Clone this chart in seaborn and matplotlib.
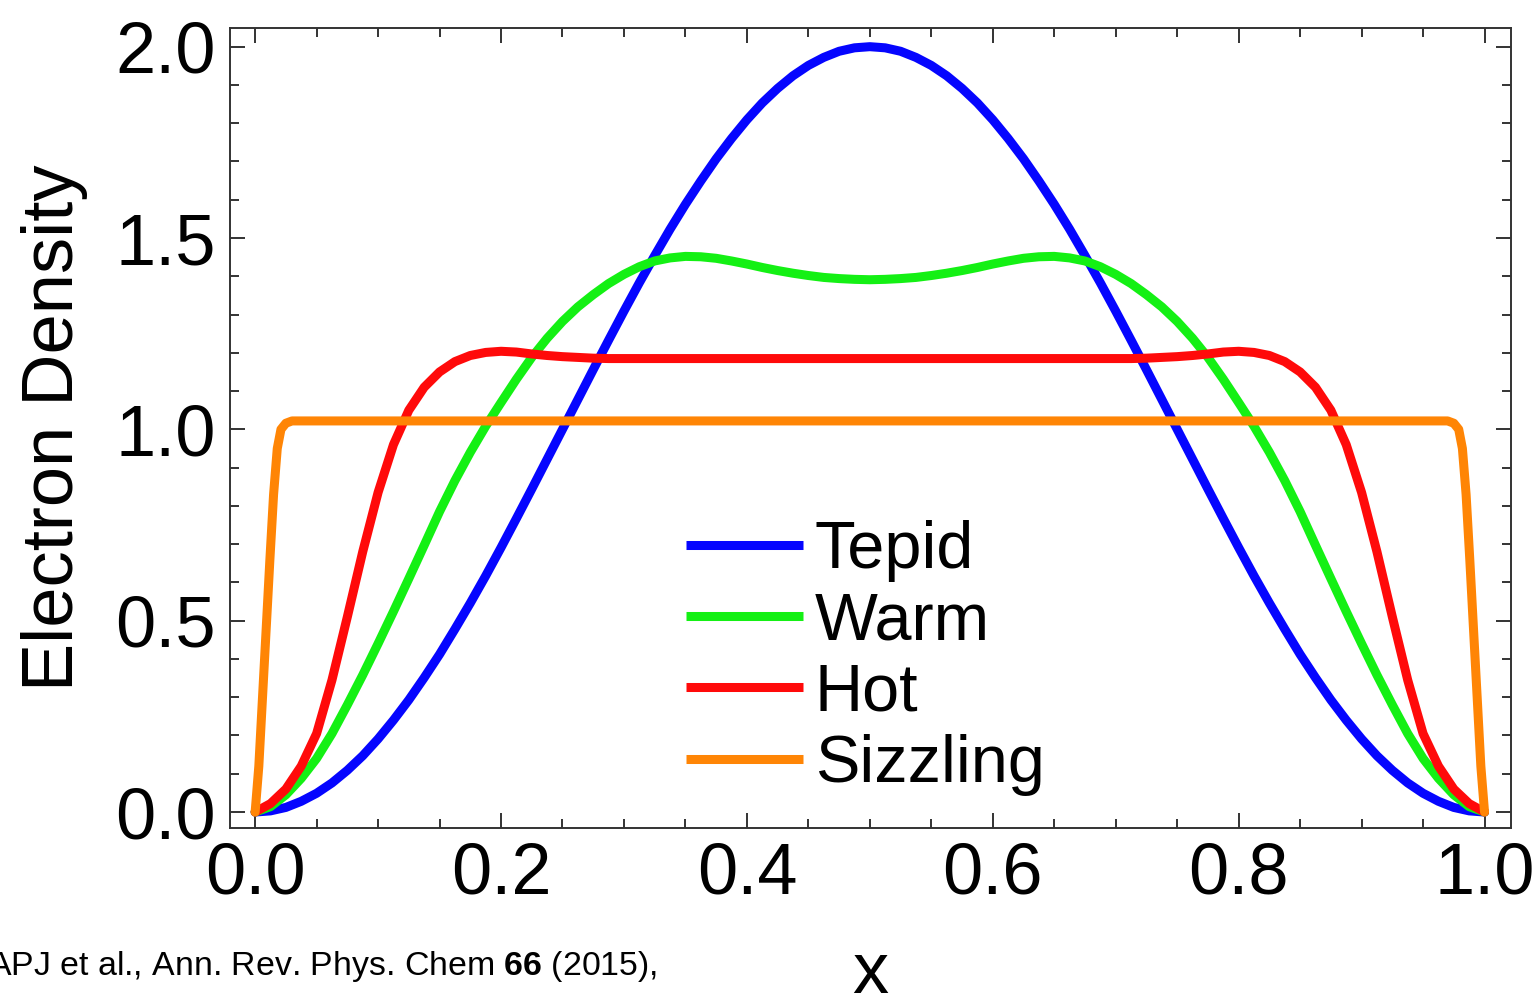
import matplotlib
matplotlib.use("Agg")
import matplotlib.pyplot as plt
import pandas as pd
import seaborn as sns
from matplotlib.ticker import MultipleLocator, FormatStrFormatter

# Sample positions along the box (shared by the three smooth profiles)
x_grid = [0.0000, 0.0125, 0.0250, 0.0375, 0.0500, 0.0625, 0.0750, 0.0875,
          0.1000, 0.1125, 0.1250, 0.1375, 0.1500, 0.1625, 0.1750, 0.1875,
          0.2000, 0.2125, 0.2250, 0.2375, 0.2500, 0.2625, 0.2750, 0.2875,
          0.3000, 0.3125, 0.3250, 0.3375, 0.3500, 0.3625, 0.3750, 0.3875,
          0.4000, 0.4125, 0.4250, 0.4375, 0.4500, 0.4625, 0.4750, 0.4875,
          0.5000, 0.5125, 0.5250, 0.5375, 0.5500, 0.5625, 0.5750, 0.5875,
          0.6000, 0.6125, 0.6250, 0.6375, 0.6500, 0.6625, 0.6750, 0.6875,
          0.7000, 0.7125, 0.7250, 0.7375, 0.7500, 0.7625, 0.7750, 0.7875,
          0.8000, 0.8125, 0.8250, 0.8375, 0.8500, 0.8625, 0.8750, 0.8875,
          0.9000, 0.9125, 0.9250, 0.9375, 0.9500, 0.9625, 0.9750, 0.9875,
          1.0000]

tepid = [0.000, 0.003, 0.012, 0.028, 0.049, 0.076, 0.109, 0.147, 0.191, 0.240,
         0.293, 0.351, 0.412, 0.478, 0.546, 0.617, 0.691, 0.767, 0.844, 0.922,
         1.000, 1.078, 1.156, 1.233, 1.309, 1.383, 1.454, 1.523, 1.588, 1.649,
         1.707, 1.760, 1.809, 1.853, 1.891, 1.924, 1.951, 1.972, 1.988, 1.997,
         2.000,
         1.997, 1.988, 1.972, 1.951, 1.924, 1.891, 1.853, 1.809, 1.760, 1.707,
         1.649, 1.588, 1.523, 1.454, 1.383, 1.309, 1.233, 1.156, 1.078, 1.000,
         0.922, 0.844, 0.767, 0.691, 0.617, 0.546, 0.478, 0.412, 0.351, 0.293,
         0.240, 0.191, 0.147, 0.109, 0.076, 0.049, 0.028, 0.012, 0.003, 0.000]

warm = [0.000, 0.014, 0.045, 0.088, 0.140, 0.205, 0.280, 0.358, 0.440, 0.524,
        0.610, 0.697, 0.785, 0.866, 0.940, 1.008, 1.070, 1.131, 1.188, 1.238,
        1.282, 1.320, 1.352, 1.381, 1.405, 1.425, 1.440, 1.448, 1.452, 1.451,
        1.447, 1.440, 1.432, 1.423, 1.415, 1.408, 1.402, 1.397, 1.394, 1.392,
        1.391,
        1.392, 1.394, 1.397, 1.402, 1.408, 1.415, 1.423, 1.432, 1.440, 1.447,
        1.451, 1.452, 1.448, 1.440, 1.425, 1.405, 1.381, 1.352, 1.320, 1.282,
        1.238, 1.188, 1.131, 1.070, 1.008, 0.940, 0.866, 0.785, 0.697, 0.610,
        0.524, 0.440, 0.358, 0.280, 0.205, 0.140, 0.088, 0.045, 0.014, 0.000]

hot = [0.000, 0.022, 0.060, 0.120, 0.205, 0.345, 0.510, 0.680, 0.835, 0.960,
       1.050, 1.110, 1.150, 1.177, 1.193, 1.201, 1.204, 1.202, 1.197, 1.193,
       1.190, 1.188, 1.186, 1.185, 1.185, 1.185, 1.185, 1.185, 1.185, 1.185,
       1.185, 1.185, 1.185, 1.185, 1.185, 1.185, 1.185, 1.185, 1.185, 1.185,
       1.185,
       1.185, 1.185, 1.185, 1.185, 1.185, 1.185, 1.185, 1.185, 1.185, 1.185,
       1.185, 1.185, 1.185, 1.185, 1.185, 1.185, 1.185, 1.186, 1.188, 1.190,
       1.193, 1.197, 1.202, 1.204, 1.201, 1.193, 1.177, 1.150, 1.110, 1.050,
       0.960, 0.835, 0.680, 0.510, 0.345, 0.205, 0.120, 0.060, 0.022, 0.000]

# The sizzling profile has sharp walls, so it is sampled more finely there
x_sizzling = [0.000, 0.003, 0.006, 0.009, 0.012, 0.015, 0.018, 0.021, 0.025,
              0.030, 0.035, 0.500, 0.965, 0.970, 0.975, 0.979, 0.982, 0.985,
              0.988, 0.991, 0.994, 0.997, 1.000]
sizzling = [0.000, 0.120, 0.300, 0.480, 0.660, 0.830, 0.950, 1.000, 1.016,
            1.022, 1.022, 1.022, 1.022, 1.022, 1.016, 1.000, 0.950, 0.830,
            0.660, 0.480, 0.300, 0.120, 0.000]

series_names = ["Tepid", "Warm", "Hot", "Sizzling"]
series_colors = ["#0505ff", "#14f014", "#ff0a0a", "#ff8505"]

frames = [
    pd.DataFrame({"x": x_grid, "density": tepid, "case": "Tepid"}),
    pd.DataFrame({"x": x_grid, "density": warm, "case": "Warm"}),
    pd.DataFrame({"x": x_grid, "density": hot, "case": "Hot"}),
    pd.DataFrame({"x": x_sizzling, "density": sizzling, "case": "Sizzling"}),
]

sns.set_theme(style="ticks")
plt.rcParams["font.family"] = ["Liberation Sans", "DejaVu Sans"]
plt.rcParams["text.color"] = "black"
plt.rcParams["mathtext.fontset"] = "custom"
plt.rcParams["mathtext.rm"] = "Liberation Sans"
plt.rcParams["mathtext.bf"] = "Liberation Sans:bold"

fig = plt.figure(figsize=(15.36, 9.97), dpi=100)
ax = fig.add_axes([0.1497, 0.1698, 0.8340, 0.8018])

for df, name, color in zip(frames, series_names, series_colors):
    sns.lineplot(data=df, x="x", y="density", ax=ax, color=color, label=name,
                 linewidth=6.5, errorbar=None, solid_capstyle="round",
                 solid_joinstyle="round")

ax.set_xlim(-0.0205, 1.0215)
ax.set_ylim(-0.041, 2.048)

ax.xaxis.set_major_locator(MultipleLocator(0.2))
ax.xaxis.set_minor_locator(MultipleLocator(0.05))
ax.yaxis.set_major_locator(MultipleLocator(0.5))
ax.yaxis.set_minor_locator(MultipleLocator(0.1))
ax.xaxis.set_major_formatter(FormatStrFormatter("%.1f"))
ax.yaxis.set_major_formatter(FormatStrFormatter("%.1f"))

ax.tick_params(which="both", direction="in", top=True, right=True,
               width=1.4, color="#333333")
ax.tick_params(which="major", length=11, labelsize=52, pad=10,
               labelcolor="black")
ax.tick_params(which="minor", length=6.5)
for spine in ax.spines.values():
    spine.set_linewidth(1.4)
    spine.set_color("#333333")

ax.set_xlabel("x", fontsize=52, color="black")
ax.set_ylabel("Electron Density", fontsize=52, color="black")
ax.xaxis.set_label_coords(0.5, -0.142)
ax.yaxis.set_label_coords(-0.111, 0.5)

leg = ax.legend(loc="upper left", bbox_to_anchor=(0.356, 0.385), frameon=False,
                fontsize=48, handlelength=1.75, handletextpad=0.18,
                labelspacing=0.14, borderpad=0, borderaxespad=0,
                labelcolor="black")
for handle in leg.get_lines():
    handle.set_solid_capstyle("butt")

fig.text(-0.008, 0.022, r"APJ et al., Ann. Rev. Phys. Chem $\mathbf{66}$ (2015),",
         fontsize=24.4, color="black", ha="left", va="baseline")

fig.savefig("out.png", dpi=100)
